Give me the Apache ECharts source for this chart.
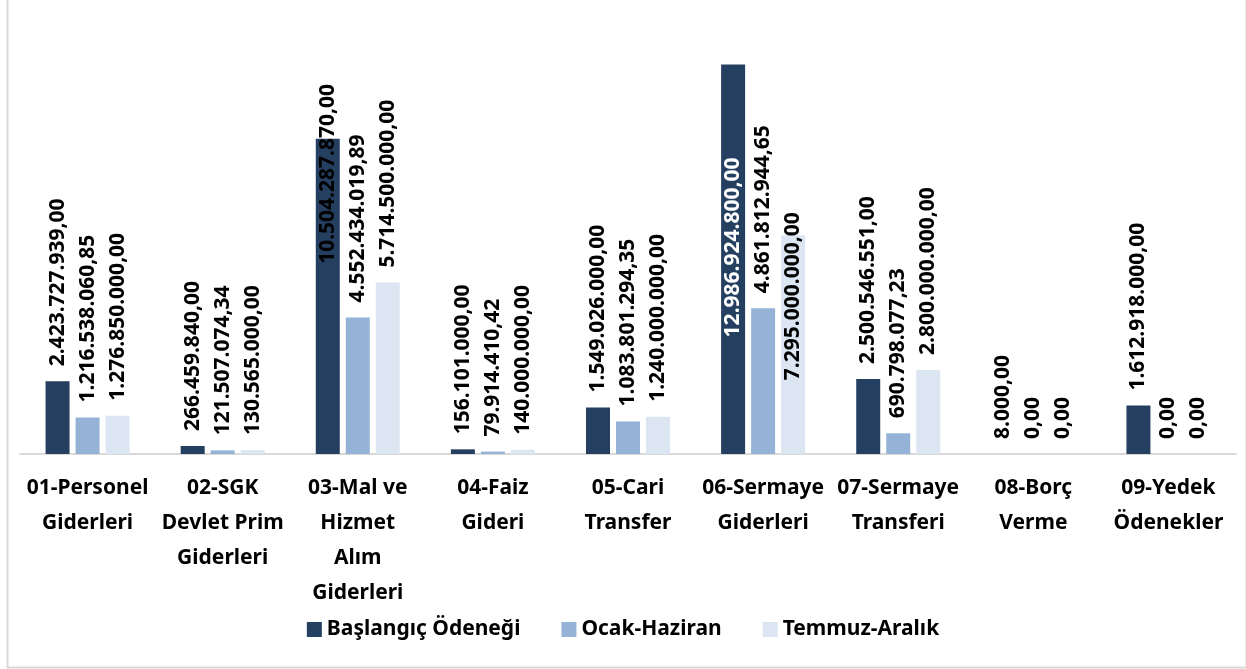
<!DOCTYPE html>
<html>
<head>
<meta charset="utf-8">
<script src="https://cdn.jsdelivr.net/npm/echarts@6/dist/echarts.min.js"></script>
<style>
  html, body { margin: 0; padding: 0; background: #fff; }
  #cn { width: 1246px; height: 669px; }
</style>
</head>
<body>
<div id="cn"></div>
<script>
'use strict';

const categories = [
    '01-Personel\nGiderleri',
    '02-SGK\nDevlet Prim\nGiderleri',
    '03-Mal ve\nHizmet\nAlım\nGiderleri',
    '04-Faiz\nGideri',
    '05-Cari\nTransfer',
    '06-Sermaye\nGiderleri',
    '07-Sermaye\nTransferi',
    '08-Borç\nVerme',
    '09-Yedek\nÖdenekler'
];
const seriesNames = ['Başlangıç Ödeneği', 'Ocak-Haziran', 'Temmuz-Aralık'];
const baslangic = [2423727939.00, 266459840.00, 10504287870.00, 156101000.00, 1549026000.00, 12986924800.00, 2500546551.00, 8000.00, 1612918000.00];
const ocakHaziran = [1216538060.85, 121507074.34, 4552434019.89, 79914410.42, 1083801294.35, 4861812944.65, 690798077.23, 0, 0];
const temmuzAralik = [1276850000.00, 130565000.00, 5714500000.00, 140000000.00, 1240000000.00, 7295000000.00, 2800000000.00, 0, 0];

const colors = ['#253f60', '#95b3d7', '#dce6f2'];
const FONT = '"Noto Sans", "Open Sans", sans-serif';

// 1.234.567,89
const fmtTR = (v) => {
    const cents = Math.round(v * 100);
    const intPart = Math.floor(cents / 100).toString().replace(/\B(?=(\d{3})+(?!\d))/g, '.');
    const dec = String(cents % 100).padStart(2, '0');
    return intPart + ',' + dec;
};

// labels that excel pulled inside the bar (distance from bar top)
const insideLabels = {
    0: { 2: { d: 125 }, 5: { d: 273, color: '#ffffff' } },
    2: { 5: { d: 145 } }
};

const buildData = (arr, si) => arr.map((v, i) => {
    const o = insideLabels[si] && insideLabels[si][i];
    if (!o) return v;
    return {
        value: v,
        label: { position: 'insideTop', distance: o.d, color: o.color || '#000' }
    };
});

const chart = echarts.init(document.getElementById('cn'));

const option = {
    animation: false,
    textStyle: { fontFamily: FONT },
    graphic: [{
        type: 'rect',
        left: 5, top: -4,
        shape: { width: 1239, height: 669 },
        style: { fill: 'none', stroke: '#d9d9d9', lineWidth: 2 },
        silent: true
    }],
    grid: { left: 20, right: 10, top: 34, bottom: 215, containLabel: false },
    legend: {
        data: seriesNames,
        top: 614,
        left: 'center',
        icon: 'rect',
        itemWidth: 15,
        itemHeight: 15,
        itemGap: 41,
        textStyle: { fontSize: 21, fontWeight: 'bold', color: '#000', fontFamily: FONT }
    },
    xAxis: {
        type: 'category',
        data: categories,
        axisLine: { show: true, lineStyle: { color: '#d9d9d9', width: 2 } },
        axisTick: { show: false },
        axisLabel: {
            interval: 0,
            margin: 17,
            color: '#000',
            fontSize: 21,
            fontWeight: 'bold',
            fontFamily: FONT,
            lineHeight: 35
        }
    },
    yAxis: {
        type: 'value',
        min: 0,
        max: 14000000000,
        show: false,
        splitLine: { show: false }
    },
    series: [baslangic, ocakHaziran, temmuzAralik].map((arr, si) => ({
        name: seriesNames[si],
        type: 'bar',
        data: buildData(arr, si),
        barWidth: 24,
        barGap: '25%',
        itemStyle: { color: colors[si] },
        label: {
            show: true,
            position: 'top',
            distance: 15,
            rotate: 90,
            align: 'left',
            verticalAlign: 'middle',
            color: '#000',
            fontSize: 21,
            fontWeight: 'bold',
            fontFamily: FONT,
            formatter: (p) => fmtTR(p.value)
        }
    }))
};

chart.setOption(option);
</script>
</body>
</html>
